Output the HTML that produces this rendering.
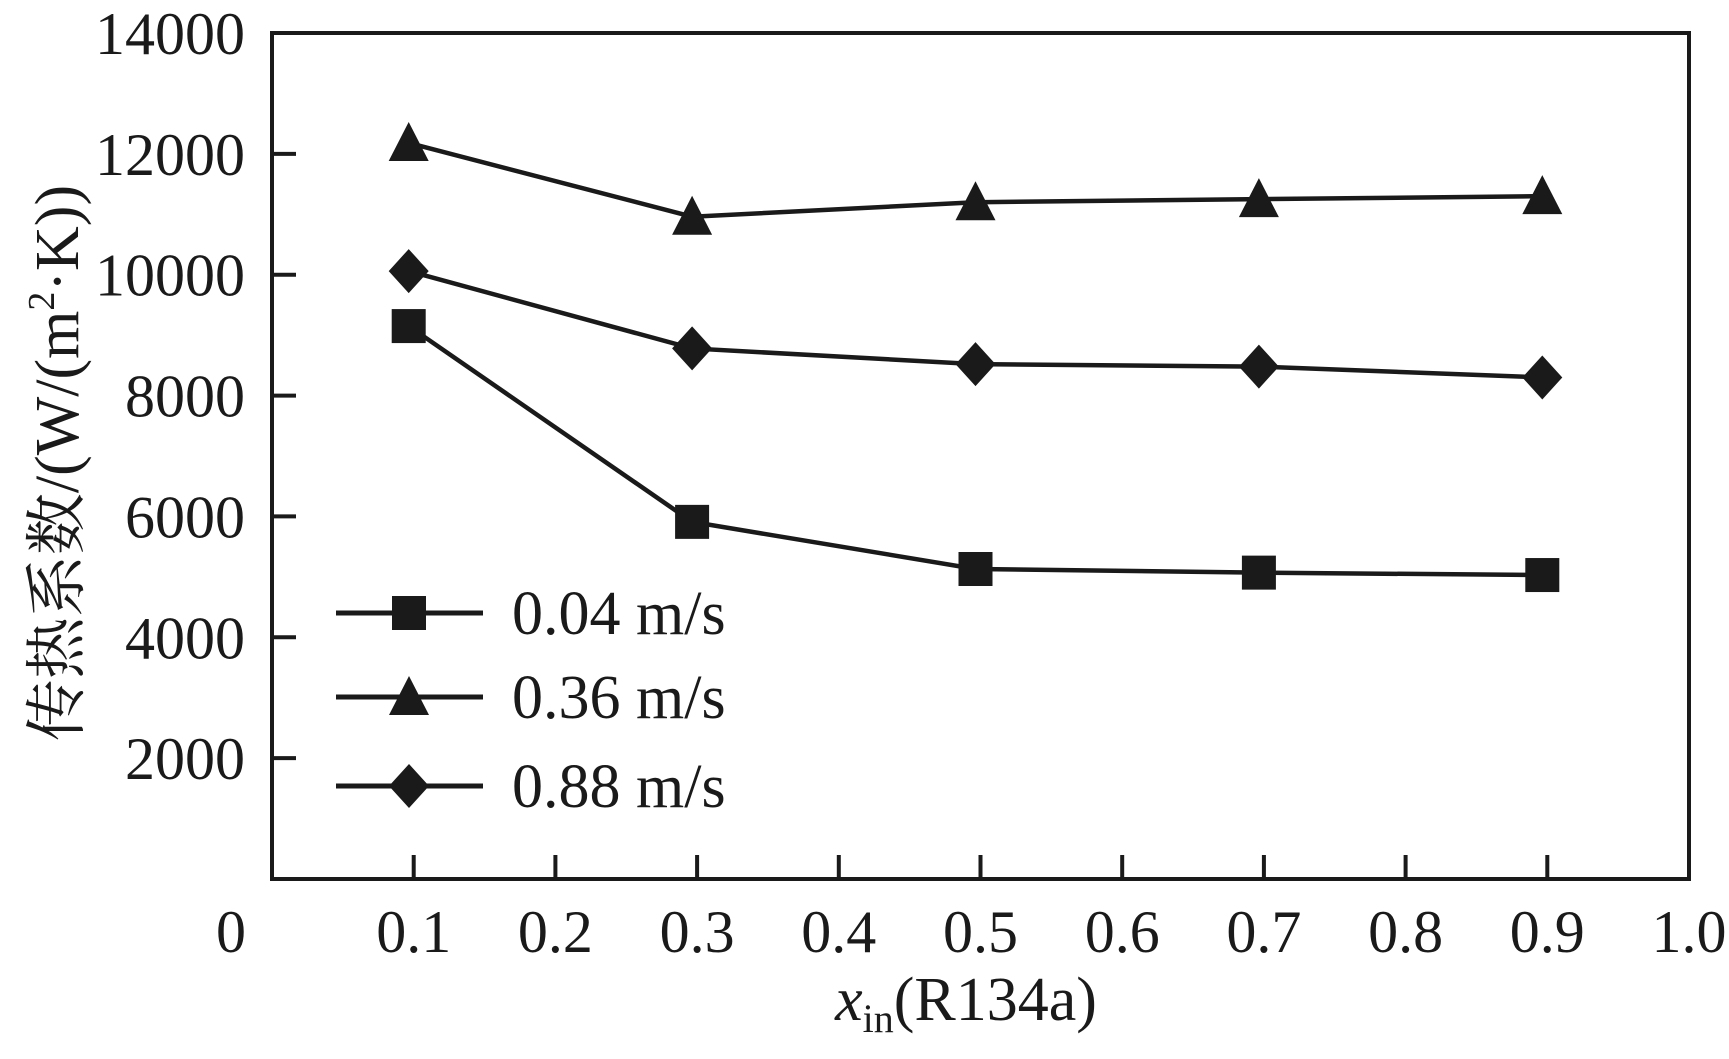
<!DOCTYPE html>
<html><head><meta charset="utf-8"><style>
html,body{margin:0;padding:0;background:#fff;}
svg{display:block;}
text{font-family:"Liberation Serif","Noto Serif CJK SC",serif;fill:#1a1a1a;}
</style></head><body>
<svg id="chart" width="1729" height="1059" viewBox="0 0 1729 1059" xmlns="http://www.w3.org/2000/svg">
<rect x="272" y="33" width="1417" height="846" fill="none" stroke="#1a1a1a" stroke-width="4"/>
<g id="axes"></g>
<g id="series"></g>
<text transform="translate(78,463) rotate(-90)" text-anchor="middle" font-size="62">传热系数/(W/(m<tspan font-size="38" dy="-24">2</tspan><tspan dy="24">·K))</tspan></text>
<text x="966" y="1020" text-anchor="middle" font-size="62"><tspan font-style="italic">x</tspan><tspan font-size="40" dy="12">in</tspan><tspan dy="-12">(R134a)</tspan></text>
<g id="legend"></g>
</svg>
<script>
const xCats = [0.1, 0.3, 0.5, 0.7, 0.9];
const s004 = [9150, 5910, 5130, 5070, 5030];
const s036 = [12180, 10960, 11200, 11250, 11300];
const s088 = [10060, 8780, 8520, 8480, 8300];
const seriesLabels = ['0.04 m/s', '0.36 m/s', '0.88 m/s'];
const yTicks = [2000, 4000, 6000, 8000, 10000, 12000, 14000];
const xTicks = [0.1, 0.2, 0.3, 0.4, 0.5, 0.6, 0.7, 0.8, 0.9];
const xTickLabels = ['0.1','0.2','0.3','0.4','0.5','0.6','0.7','0.8','0.9','1.0'];

const L=272,R=1689,T=33,B=879;
const xs=v=>L+(v-0)/(1-0)*(R-L);
const ys=v=>B-(v-0)/(14000-0)*(B-T);
const NS='http://www.w3.org/2000/svg';
function mk(tag,attrs,parent){const e=document.createElementNS(NS,tag);for(const k in attrs)e.setAttribute(k,attrs[k]);parent.appendChild(e);return e;}
const axes=document.getElementById('axes');
yTicks.forEach(v=>{
  const y=ys(v);
  if(v<14000){const t=mk('line',{x1:L,x2:L+24,y1:y,y2:y,stroke:'#1a1a1a','stroke-width':4},axes);
  
  }
  const tx=mk('text',{x:245,y:y+21,'text-anchor':'end','font-size':60},axes);
  tx.textContent=v;
  
  
});
const z=mk('text',{x:231,y:952,'text-anchor':'middle','font-size':60},axes);
z.textContent='0';


xTicks.forEach(v=>{
  const x=xs(v);
  const t=mk('line',{x1:x,x2:x,y1:B,y2:B-24,stroke:'#1a1a1a','stroke-width':4},axes);
  
  
});
xTickLabels.forEach((s,i)=>{
  const tx=mk('text',{x:xs((i+1)/10),y:952,'text-anchor':'middle','font-size':60},axes);
  tx.textContent=s;
  
  
});
function marker(kind,x,y,parent){
  let e;
  if(kind==='square') e=mk('rect',{x:x-17,y:y-17,width:34,height:34,fill:'#1a1a1a'},parent);
  else if(kind==='triangle') e=mk('polygon',{points:`${x},${y-21} ${x+20},${y+18} ${x-20},${y+18}`,fill:'#1a1a1a'},parent);
  else e=mk('polygon',{points:`${x},${y-22} ${x+20},${y} ${x},${y+22} ${x-20},${y}`,fill:'#1a1a1a'},parent);
  return e;
}
const OFF=-5;
const sg=document.getElementById('series');
const all=[[s004,'square'],[s036,'triangle'],[s088,'diamond']];
all.forEach(([vals,kind],si)=>{
  const pts=vals.map((v,i)=>(xs(xCats[i])+OFF)+','+ys(v)).join(' ');
  const pl=mk('polyline',{points:pts,fill:'none',stroke:'#1a1a1a','stroke-width':4.5},sg);
  
  
  vals.forEach((v,i)=>{
    const m=marker(kind,xs(xCats[i])+OFF,ys(v),sg);
    
    
  });
});
const lg=document.getElementById('legend');
const ly=[613,697,786];
all.forEach(([vals,kind],i)=>{
  const l=mk('line',{x1:336,x2:483,y1:ly[i],y2:ly[i],stroke:'#1a1a1a','stroke-width':5},lg);
  
  
  const m=marker(kind,409,ly[i],lg);
  
  
  const t=mk('text',{x:512,y:ly[i]+21,'font-size':62},lg);
  t.textContent=seriesLabels[i];
  
  
});
</script>
</body></html>
